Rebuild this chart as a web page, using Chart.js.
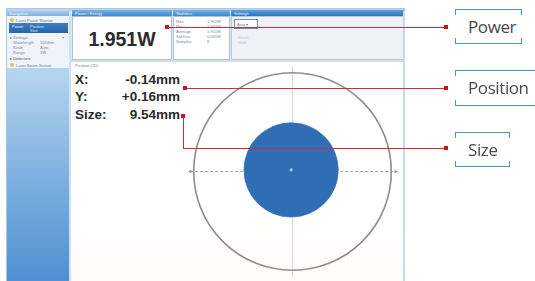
<!DOCTYPE html>
<html>
<head>
<meta charset="utf-8">
<script src="https://cdn.jsdelivr.net/npm/chart.js@4"></script>
<style>
  html, body { margin:0; padding:0; background:#fff; width:535px; height:281px; overflow:hidden; }
  body { position:relative; font-family: Arial, "Liberation Sans", sans-serif; }
  .abs { position:absolute; box-sizing:border-box; }
  .tiny { position:absolute; font-size:4px; line-height:5px; color:#7a8796; white-space:nowrap; }
  .bar { background:linear-gradient(#7fb3e2,#3d86c9); }
  .red { position:absolute; background:#d42a3a; }
  .sq { position:absolute; width:4px; height:4px; background:#d0101e; }
  .brk { position:absolute; box-sizing:border-box; }
  .brk .t, .brk .b { position:absolute; left:0; right:0; height:5px; border:1.5px solid #4b91c8; }
  .brk .t { top:0; border-bottom:none; }
  .brk .b { bottom:0; border-top:none; }
  .brk span { position:absolute; left:13px; top:50%; transform:translateY(-52%); font-family:"Open Sans","Noto Sans",sans-serif; font-size:17px; color:#4a4a4a; letter-spacing:-0.4px; }
  .meas { position:absolute; font-weight:bold; font-size:13.5px; color:#2a2a2a; line-height:16px; }
</style>
</head>
<body>
<!-- window frame -->
<div class="abs" style="left:6px;top:8px;width:399px;height:273px;border:1px solid #a9c9e6;background:#dfe9f3;"></div>
<div class="abs" style="left:7px;top:9px;width:397px;height:2px;background:#b9d4ec;"></div>

<!-- left navigation panel -->
<div class="abs" style="left:7px;top:11px;width:63px;height:5px;background:linear-gradient(#a8cbea,#7fb0de);"></div>
<div class="tiny" style="left:9px;top:11px;color:#eef5fc;">Navigation</div>
<div class="abs" style="left:7px;top:16px;width:63px;height:52px;background:#eef4fa;"></div>
<div class="abs" style="left:10px;top:18px;width:4px;height:4px;border-radius:50%;background:#e2c45a;"></div>
<div class="tiny" style="left:16px;top:17.5px;color:#6b7a8a;">Laser Power Monitor</div>
<div class="abs" style="left:9px;top:23px;width:59px;height:10px;background:linear-gradient(#3e7fc4,#2a63a8);"></div>
<div class="tiny" style="left:12px;top:24px;color:#e6f0fa;">Power</div>
<div class="tiny" style="left:30px;top:24px;color:#cfe0f3;">Position</div>
<div class="tiny" style="left:30px;top:28px;color:#cfe0f3;">Size</div>
<div class="tiny" style="left:10px;top:35px;">▸ Settings</div>
<div class="tiny" style="left:62px;top:35px;">▾</div>
<div class="tiny" style="left:13px;top:40px;">Wavelength</div>
<div class="tiny" style="left:40px;top:40px;">1064nm</div>
<div class="tiny" style="left:13px;top:45px;">Scale</div>
<div class="tiny" style="left:40px;top:45px;">Auto</div>
<div class="tiny" style="left:13px;top:50px;">Range</div>
<div class="tiny" style="left:40px;top:50px;">3W</div>
<div class="tiny" style="left:10px;top:56px;color:#44505e;">▸ Detectors</div>
<div class="abs" style="left:10px;top:63px;width:4px;height:4px;border-radius:50%;background:#e2c45a;"></div>
<div class="tiny" style="left:16px;top:62.5px;color:#6b7a8a;">Laser Beam Sensor</div>
<div class="abs" style="left:7px;top:68px;width:63px;height:213px;background:linear-gradient(#b7d5ef,#8ab8e3 40%,#4e90d1);"></div>
<div class="abs" style="left:69px;top:11px;width:2px;height:270px;background:#cfe0f0;"></div>

<!-- power panel -->
<div class="abs bar" style="left:72px;top:10px;width:100px;height:6px;"></div>
<div class="tiny" style="left:75px;top:10.5px;color:#e8f2fb;">Power / Energy</div>
<div class="abs" style="left:72px;top:16px;width:100px;height:44px;background:#fff;border:1px solid #a9c4df;"></div>
<div class="abs" id="powerText" style="left:72px;top:28px;width:100px;text-align:center;font-weight:bold;font-size:19.5px;line-height:22px;color:#2a2a2a;"></div>

<!-- statistics panel -->
<div class="abs bar" style="left:173px;top:10px;width:57px;height:6px;"></div>
<div class="tiny" style="left:176px;top:10.5px;color:#e8f2fb;">Statistics</div>
<div class="abs" style="left:173px;top:16px;width:57px;height:44px;background:#fff;border:1px solid #a9c4df;"></div>
<div class="tiny" style="left:176px;top:19px;">Max</div><div class="tiny" style="left:207px;top:19px;">1.962W</div>
<div class="tiny" style="left:176px;top:24px;">Min</div><div class="tiny" style="left:207px;top:24px;">1.941W</div>
<div class="tiny" style="left:176px;top:29px;">Average</div><div class="tiny" style="left:207px;top:29px;">1.951W</div>
<div class="tiny" style="left:176px;top:34px;">Std Dev</div><div class="tiny" style="left:207px;top:34px;">0.005W</div>
<div class="tiny" style="left:176px;top:39px;">Samples</div><div class="tiny" style="left:207px;top:39px;">8</div>

<!-- settings panel -->
<div class="abs" style="left:231px;top:10px;width:173px;height:6px;background:linear-gradient(#5e9fda,#2d73bd);"></div>
<div class="tiny" style="left:234px;top:10.5px;color:#e8f2fb;">Settings</div>
<div class="abs" style="left:231px;top:16px;width:173px;height:44px;background:#eef1f6;border:1px solid #b8c8da;"></div>
<div class="abs" style="left:234px;top:19px;width:24px;height:10px;background:#fff;border:1px solid #6f91b9;"></div>
<div class="tiny" style="left:237px;top:21.5px;color:#6b7a8a;">Auto ▾</div>
<div class="tiny" style="left:238px;top:35px;color:#b5bec9;">Reset</div>
<div class="tiny" style="left:238px;top:40px;color:#b5bec9;">Hold</div>

<div class="abs" style="left:71px;top:60px;width:333px;height:2px;background:#d3dce8;"></div>

<!-- position panel -->
<div class="abs" style="left:71px;top:62px;width:333px;height:219px;background:linear-gradient(#ffffff 70%,#fffcf6);"></div>
<div class="tiny" style="left:75px;top:62.5px;">Position (2D)</div>
<div class="abs" style="left:403px;top:11px;width:2px;height:270px;background:#c4d9ec;"></div>

<div class="meas" id="lbl0" style="left:75px;top:72px;"></div>
<div class="meas" id="lbl1" style="left:75px;top:89px;"></div>
<div class="meas" id="lbl2" style="left:75px;top:107px;"></div>
<div class="meas" id="val0" style="right:355px;top:72px;"></div>
<div class="meas" id="val1" style="right:355px;top:89px;"></div>
<div class="meas" id="val2" style="right:355px;top:107px;"></div>

<canvas id="c" width="221" height="219" style="position:absolute;left:182px;top:62px;"></canvas>

<!-- annotation lines -->
<div class="red" style="left:167px;top:26.5px;width:279px;height:1.2px;"></div>
<div class="sq" style="left:165px;top:25px;"></div>
<div class="sq" style="left:444px;top:25px;"></div>

<div class="red" style="left:185px;top:87.5px;width:261px;height:1.2px;"></div>
<div class="sq" style="left:183px;top:86px;"></div>
<div class="sq" style="left:444px;top:86px;"></div>

<div class="red" style="left:182.5px;top:116px;width:1.2px;height:32px;"></div>
<div class="red" style="left:182.5px;top:147.5px;width:263px;height:1.2px;"></div>
<div class="sq" style="left:181px;top:114px;"></div>
<div class="sq" style="left:444px;top:146px;"></div>

<!-- callout labels -->
<div class="brk" style="left:455px;top:9px;width:67px;height:35px;"><div class="t"></div><div class="b"></div><span id="cap0"></span></div>
<div class="brk" style="left:455px;top:70px;width:82px;height:36px;"><div class="t"></div><div class="b"></div><span id="cap1"></span></div>
<div class="brk" style="left:455px;top:132px;width:55px;height:35px;"><div class="t"></div><div class="b"></div><span id="cap2"></span></div>

<script>
// ---- data ----
const calloutLabels = ['Power', 'Position', 'Size'];
const powerWatts = [1.951];
const measureLabels = ['X:', 'Y:', 'Size:'];
const measureValuesMm = [-0.14, 0.16, 9.54];
const apertureDiameterMm = [20];
const beamCentreMm = [-0.14, 0.16];
const beamDiameterMm = [9.54];
const crosshairTicks = [0];
const crosshairArrowTipsMm = [-10.35, 10.45];

// ---- texts ----
document.getElementById('powerText').textContent = powerWatts[0].toFixed(3) + 'W';
measureLabels.forEach((l, i) => {
  document.getElementById('lbl' + i).textContent = l;
  const v = measureValuesMm[i];
  const s = i < 2 ? (v >= 0 ? '+' : '-') + Math.abs(v).toFixed(2) : v.toFixed(2);
  document.getElementById('val' + i).textContent = s + 'mm';
});
calloutLabels.forEach((l, i) => document.getElementById('cap' + i).textContent = l);

// ---- chart ----
const mmToPx = (chart, mm) => {
  const s = chart.scales.x;
  return Math.abs(s.getPixelForValue(mm) - s.getPixelForValue(0));
};
const halfX = 10.78, halfY = 10.68;

new Chart(document.getElementById('c'), {
  type: 'scatter',
  data: {
    datasets: [
      { label: 'Centroid', data: [{ x: beamCentreMm[0], y: beamCentreMm[1] }],
        pointRadius: 1.6, pointBackgroundColor: '#a8c8ec', pointBorderWidth: 0 },
      { label: 'Beam', data: [{ x: beamCentreMm[0], y: beamCentreMm[1] }],
        pointRadius: c => mmToPx(c.chart, beamDiameterMm[0] / 2),
        pointBackgroundColor: '#2f6db4', pointBorderColor: '#3a76ba', pointBorderWidth: 0.8 },
      { label: 'Crosshair', data: crosshairArrowTipsMm.map(x => ({ x, y: 0 })),
        showLine: true, borderColor: '#a3a3a3', borderWidth: 1, borderDash: [3, 2],
        pointStyle: 'triangle', pointRadius: 2.2,
        pointRotation: c => (c.dataIndex === 0 ? -90 : 90),
        pointBackgroundColor: '#9a9a9a', pointBorderWidth: 0 },
      { label: 'Aperture', data: [{ x: 0, y: 0 }],
        pointRadius: c => mmToPx(c.chart, apertureDiameterMm[0] / 2),
        pointBackgroundColor: 'rgba(0,0,0,0)', pointBorderColor: '#8e8e8e', pointBorderWidth: 1.6 }
    ]
  },
  options: {
    responsive: false,
    animation: false,
    devicePixelRatio: 1,
    events: [],
    layout: { padding: 0 },
    plugins: { legend: { display: false }, tooltip: { enabled: false } },
    scales: {
      x: { type: 'linear', min: -halfX, max: halfX, display: true,
           ticks: { display: false }, border: { display: false },
           grid: { drawTicks: false, color: '#d2d6dd', lineWidth: 1 },
           afterBuildTicks: s => { s.ticks = crosshairTicks.map(v => ({ value: v })); } },
      y: { type: 'linear', min: -halfY, max: halfY, display: true,
           ticks: { display: false }, border: { display: false },
           grid: { display: false, drawTicks: false },
           afterBuildTicks: s => { s.ticks = crosshairTicks.map(v => ({ value: v })); } }
    }
  }
});
</script>
</body>
</html>
